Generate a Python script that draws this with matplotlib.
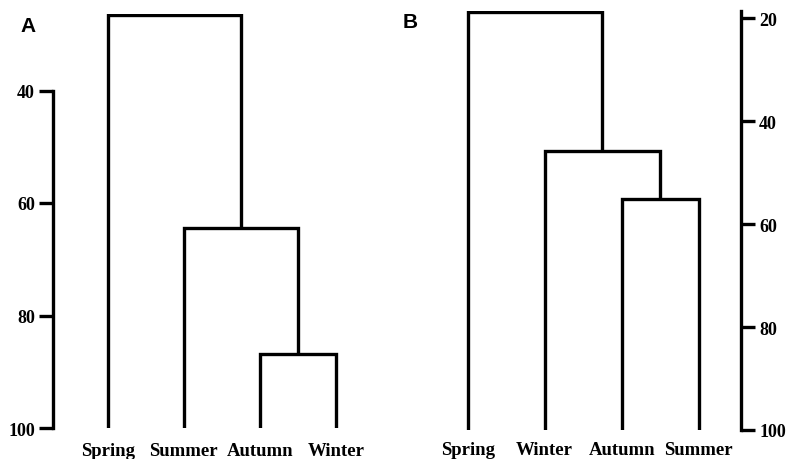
import matplotlib.pyplot as plt

# leaf order and merge heights (similarity, %)
a_labels = ['Spring', 'Summer', 'Autumn', 'Winter']
a_merges = [(2, 3, 86.8), (1, 'n0', 64.5), (0, 'n1', 26.5)]
a_ticks = [40, 60, 80, 100]

b_labels = ['Spring', 'Winter', 'Autumn', 'Summer']
b_merges = [(2, 3, 55.1), (1, 'n0', 45.8), (0, 'n1', 18.8)]
b_ticks = [20, 40, 60, 80, 100]

leaf_base = 100
lw = 2.4
serif = 'Liberation Serif'


def draw_dendro(ax, labels, merges):
    pos = {i: (i + 1, leaf_base) for i in range(len(labels))}
    for k, (left, right, h) in enumerate(merges):
        x1, y1 = pos[left]
        x2, y2 = pos[right]
        ax.plot([x1, x1, x2, x2], [y1, h, h, y2], color='black', lw=lw,
                solid_joinstyle='miter', solid_capstyle='butt')
        pos['n%d' % k] = ((x1 + x2) / 2, h)
    ax.set_xticks(range(1, len(labels) + 1))
    ax.set_xticklabels(labels, fontfamily=serif, fontweight='bold', fontsize=13.5)
    ax.tick_params(axis='x', length=0, pad=10)


fig = plt.figure(figsize=(7.87, 4.6), dpi=100)

# panel A
ax1 = fig.add_axes([53 / 787, 31 / 460, 327 / 787, 414 / 460])
draw_dendro(ax1, a_labels, a_merges)
ax1.set_xlim(0.28, 4.58)
ax1.set_ylim(100, 26.4)
ax1.set_yticks(a_ticks)
ax1.spines[['top', 'right', 'bottom']].set_visible(False)
ax1.spines['left'].set_bounds(40, 100)
ax1.spines['left'].set_linewidth(lw)

# panel B
ax2 = fig.add_axes([420 / 787, 29 / 460, 321 / 787, 419 / 460])
draw_dendro(ax2, b_labels, b_merges)
ax2.set_xlim(0.38, 4.55)
ax2.set_ylim(100, 18.6)
ax2.set_yticks(b_ticks)
ax2.yaxis.tick_right()
ax2.tick_params(axis='x', pad=8)
ax2.spines[['top', 'left', 'bottom']].set_visible(False)
ax2.spines['right'].set_linewidth(lw)

for ax in (ax1, ax2):
    ax.tick_params(axis='y', length=10, width=lw, pad=3)
    for t in ax.get_yticklabels():
        t.set_fontfamily(serif)
        t.set_fontweight('bold')
        t.set_fontsize(13)
    ax.patch.set_visible(False)

fig.text(28 / 787, 1 - 26 / 460, 'A', fontfamily='Liberation Sans', fontweight='bold',
         fontsize=15, ha='center', va='center')
fig.text(410 / 787, 1 - 22 / 460, 'B', fontfamily='Liberation Sans', fontweight='bold',
         fontsize=15, ha='center', va='center')

fig.savefig('out.png', dpi=100)
